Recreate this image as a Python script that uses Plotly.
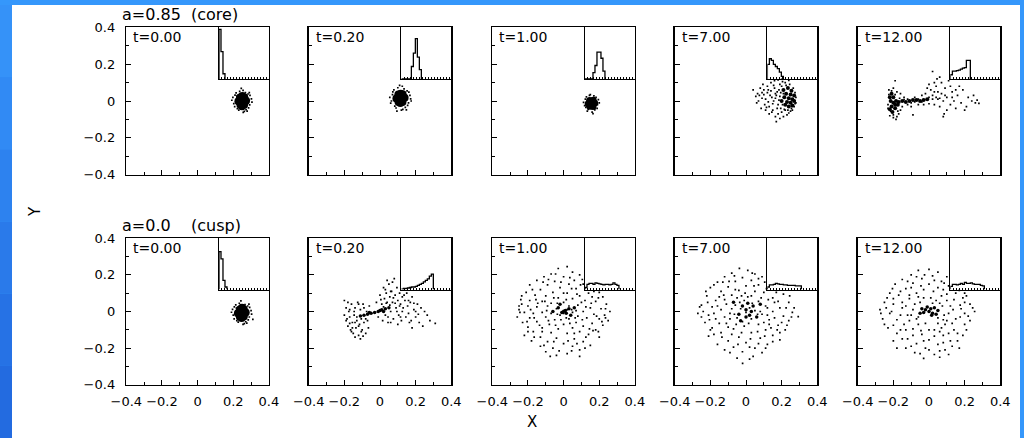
import plotly.graph_objects as go

# ---------------- data ----------------
time_labels = ["t=0.00", "t=0.20", "t=1.00", "t=7.00", "t=12.00"]
row_titles = ["a=0.85\u00a0 (core)", "a=0.0\u00a0\u00a0\u00a0 (cusp)"]
axis_tick_vals = [-0.4, -0.2, 0, 0.2, 0.4]
axis_tick_text = ["\u22120.4", "\u22120.2", "0", "0.2", "0.4"]
axis_minor_vals = [-0.3, -0.1, 0.1, 0.3]

# ---- core (a=0.85) ----
core_t000_dense = [(0.25, 0.0), (0.272, 0.002), (0.229, -0.002), (0.262, 0.02), (0.238, 0.019),
                   (0.261, -0.02), (0.24, -0.021), (0.251, 0.027), (0.249, -0.028)]
core_t000_sparse = [(0.245, 0.068), (0.21, 0.032), (0.292, -0.021), (0.302, 0.012), (0.203, -0.014),
                    (0.283, 0.038), (0.256, -0.062), (0.272, -0.047), (0.216, 0.044), (0.231, -0.049),
                    (0.294, 0.031), (0.192, 0.004), (0.286, -0.037), (0.223, -0.041), (0.268, 0.046),
                    (0.262, -0.056), (0.221, 0.026), (0.305, -0.006), (0.198, 0.02), (0.236, 0.052),
                    (0.278, -0.055), (0.208, -0.03), (0.29, 0.045), (0.255, 0.058)]
core_t000_hist = [0.96, 0.53, 0.10]

core_t020_dense = [(0.115, 0.015), (0.138, 0.017), (0.092, 0.013), (0.127, 0.036), (0.103, 0.035),
                   (0.126, -0.006), (0.104, -0.005), (0.116, 0.04), (0.114, -0.011)]
core_t020_sparse = [(0.11, 0.085), (0.072, 0.05), (0.16, -0.01), (0.168, 0.03), (0.064, 0.0),
                    (0.152, 0.055), (0.12, -0.05), (0.142, -0.035), (0.078, 0.06), (0.09, -0.038),
                    (0.162, 0.048), (0.055, 0.02), (0.155, -0.024), (0.083, -0.028), (0.135, 0.066),
                    (0.128, -0.045), (0.07, 0.035), (0.172, 0.012), (0.1, 0.072), (0.148, -0.048),
                    (0.06, -0.012), (0.095, -0.055), (0.125, 0.08), (0.175, 0.0)]
core_t020_hist = [0, 0, 0, 0, 0, 0.24, 0.5, 0.78, 0.42, 0.18]

core_t100_dense = [(0.156, -0.013), (0.174, -0.011), (0.138, -0.015), (0.166, 0.004), (0.146, 0.003),
                   (0.165, -0.03), (0.147, -0.029)]
core_t100_sparse = [(0.15, 0.035), (0.122, 0.01), (0.19, -0.02), (0.195, 0.008), (0.118, -0.025),
                    (0.182, 0.02), (0.16, -0.06), (0.175, -0.048), (0.128, 0.022), (0.138, -0.045),
                    (0.188, -0.04), (0.112, -0.008), (0.17, 0.028), (0.145, 0.03), (0.2, -0.01),
                    (0.133, -0.055), (0.165, -0.068), (0.125, -0.035)]
core_t100_hist = [0, 0, 0, 0, 0.12, 0.26, 0.52, 0.52, 0.4, 0.15]

core_t700_dense = [(0.21, 0.06), (0.235, 0.07), (0.255, 0.055), (0.225, 0.04), (0.25, 0.035),
                   (0.27, 0.03), (0.215, 0.02), (0.24, 0.015), (0.26, 0.01), (0.23, -0.005),
                   (0.25, -0.01), (0.27, 0.0), (0.24, -0.03), (0.26, -0.025), (0.2, 0.0), (0.22, -0.02)]
core_t700_sparse = [(0.04, 0.06), (0.055, 0.025), (0.065, 0.04), (0.08, 0.07), (0.09, 0.015),
                    (0.1, 0.06), (0.105, -0.02), (0.11, 0.01), (0.12, 0.08), (0.12, 0.045),
                    (0.125, -0.005), (0.13, -0.03), (0.14, 0.1), (0.14, 0.055), (0.145, 0.02),
                    (0.15, -0.05), (0.155, 0.0), (0.16, 0.07), (0.165, -0.085), (0.17, 0.03),
                    (0.175, -0.04), (0.18, -0.07), (0.185, 0.005), (0.19, 0.09), (0.19, -0.095),
                    (0.2, -0.06), (0.205, 0.105), (0.21, -0.085), (0.22, -0.05), (0.23, -0.075),
                    (0.24, -0.065), (0.25, -0.055), (0.26, -0.05), (0.27, -0.03), (0.28, 0.02),
                    (0.28, -0.01), (0.17, -0.112), (0.085, -0.04), (0.11, -0.05), (0.13, -0.07),
                    (0.07, 0.0), (0.095, 0.09), (0.16, 0.11), (0.18, 0.115), (0.2, 0.118),
                    (0.24, 0.112), (0.22, 0.1), (0.175, 0.05), (0.195, 0.045), (0.135, 0.03),
                    (0.15, -0.015), (0.165, 0.015), (0.18, -0.02), (0.195, -0.04), (0.06, -0.01),
                    (0.1, 0.035), (0.2, 0.08), (0.21, 0.04), (0.19, 0.025), (0.185, 0.06),
                    (0.205, -0.02), (0.215, -0.045), (0.235, -0.05), (0.255, -0.04), (0.275, -0.015),
                    (0.275, 0.045), (0.265, 0.07), (0.245, 0.09), (0.225, 0.085), (0.165, 0.04),
                    (0.155, 0.085), (0.145, -0.06), (0.125, 0.06), (0.115, -0.035), (0.09, 0.045),
                    (0.075, 0.03)]
core_t700_hist = [0.28, 0.39, 0.36, 0.28, 0.24, 0.2, 0.13, 0.05]

core_t1200_dense = [(-0.21, 0.04), (-0.2, 0.02), (-0.215, 0.0), (-0.2, -0.01), (-0.21, -0.03),
                    (-0.19, -0.04), (-0.205, -0.06), (-0.185, 0.0), (-0.17, -0.005), (-0.15, 0.0),
                    (-0.13, -0.005), (-0.11, 0.0), (-0.09, 0.005), (-0.07, 0.005), (-0.05, 0.0),
                    (-0.19, -0.02), (-0.175, -0.02), (-0.22, 0.02), (-0.22, -0.045), (-0.03, 0.005),
                    (-0.01, 0.01)]
core_t1200_sparse = [(-0.225, 0.06), (-0.2, 0.07), (-0.18, 0.05), (-0.16, 0.04), (-0.23, -0.02),
                     (-0.22, -0.08), (-0.2, -0.09), (-0.185, -0.1), (-0.17, -0.07), (-0.16, -0.05),
                     (-0.15, -0.03), (-0.14, 0.02), (-0.19, 0.11), (-0.12, -0.02), (-0.1, -0.03),
                     (-0.09, -0.075), (-0.08, 0.02), (-0.06, -0.02), (-0.04, 0.03), (-0.03, -0.02),
                     (-0.02, 0.04), (0.0, 0.02), (0.0, -0.015), (0.01, 0.06), (0.02, 0.16),
                     (0.02, 0.03), (0.03, -0.02), (0.04, 0.08), (0.05, 0.05), (0.05, 0.01),
                     (0.06, -0.03), (0.07, 0.1), (0.07, 0.04), (0.08, -0.085), (0.08, 0.0),
                     (0.09, 0.07), (0.1, 0.02), (0.1, -0.05), (0.11, 0.11), (0.12, -0.02),
                     (0.13, 0.05), (0.14, 0.0), (0.15, -0.04), (0.16, 0.03), (0.18, -0.01),
                     (0.19, 0.06), (0.2, -0.05), (0.22, 0.02), (0.25, 0.03), (0.26, -0.01),
                     (0.28, -0.013), (0.27, 0.005), (0.045, 0.12), (0.03, 0.1), (0.085, -0.07),
                     (0.0, 0.09), (-0.01, 0.07), (0.06, 0.13), (0.12, 0.08), (0.17, 0.08),
                     (-0.14, 0.008), (-0.12, 0.01), (-0.1, -0.01), (-0.08, -0.005), (-0.06, 0.01),
                     (-0.04, -0.005), (0.02, 0.01), (0.04, 0.02), (0.06, 0.015), (-0.21, 0.055),
                     (-0.225, 0.035), (-0.19, 0.035), (-0.215, -0.055), (-0.2, -0.075), (-0.18, -0.085),
                     (-0.175, -0.055), (-0.165, 0.015), (-0.23, -0.04), (0.03, 0.05), (0.09, 0.03),
                     (0.13, 0.02), (0.15, 0.06), (0.21, -0.03), (0.24, 0.0)]
core_t1200_hist = [0.08, 0.15, 0.15, 0.16, 0.17, 0.19, 0.21, 0.22, 0.36, 0.36]

# ---- cusp (a=0.0) ----
cusp_t000_dense = [(0.248, -0.008), (0.27, -0.006), (0.226, -0.01), (0.259, 0.012), (0.237, 0.011),
                   (0.259, -0.028), (0.237, -0.029), (0.249, 0.02), (0.247, -0.036)]
cusp_t000_sparse = [(0.243, 0.058), (0.206, 0.025), (0.29, -0.03), (0.3, 0.005), (0.2, -0.02),
                    (0.281, 0.03), (0.255, -0.07), (0.27, -0.056), (0.214, 0.036), (0.228, -0.058),
                    (0.292, 0.022), (0.19, -0.004), (0.284, -0.046), (0.22, -0.05), (0.266, 0.038),
                    (0.262, -0.066), (0.218, 0.018), (0.303, -0.014), (0.196, 0.012), (0.234, 0.045),
                    (0.276, -0.064), (0.205, -0.04), (0.288, 0.04), (0.31, -0.043)]
cusp_t000_hist = [0.74, 0.6, 0.18, 0.05]

cusp_t020_dense = [(-0.11, -0.025), (-0.09, -0.02), (-0.07, -0.015), (-0.05, -0.01), (-0.03, -0.005),
                   (-0.01, 0.0), (0.01, 0.01), (0.03, 0.015), (0.05, 0.02), (0.0, 0.005),
                   (-0.06, -0.005), (0.02, 0.0)]
cusp_t020_sparse = [(-0.2, 0.06), (-0.19, 0.02), (-0.19, -0.05), (-0.18, -0.08), (-0.175, 0.0),
                    (-0.17, -0.03), (-0.165, -0.1), (-0.16, 0.04), (-0.155, -0.06), (-0.15, -0.12),
                    (-0.145, -0.02), (-0.14, 0.02), (-0.135, -0.09), (-0.13, -0.05), (-0.125, 0.05),
                    (-0.12, -0.13), (-0.115, -0.07), (-0.11, 0.01), (-0.105, -0.04), (-0.1, -0.1),
                    (-0.095, 0.04), (-0.09, -0.06), (-0.08, -0.12), (-0.075, 0.0), (-0.07, -0.05),
                    (-0.065, -0.09), (-0.06, 0.03), (-0.2, -0.02), (-0.18, 0.05), (-0.16, -0.11),
                    (-0.14, -0.14), (-0.12, 0.04),
                    (-0.02, 0.05), (-0.01, -0.03), (0.0, 0.09), (0.01, 0.04), (0.015, -0.05),
                    (0.02, 0.13), (0.025, 0.07), (0.03, -0.02), (0.035, 0.1), (0.04, 0.05),
                    (0.045, -0.06), (0.05, 0.15), (0.055, 0.08), (0.06, 0.0), (0.065, 0.11),
                    (0.07, 0.05), (0.075, -0.04), (0.08, 0.18), (0.085, 0.09), (0.09, 0.02),
                    (0.095, 0.13), (0.1, 0.06), (0.105, -0.02), (0.11, 0.1), (0.115, 0.04),
                    (0.12, -0.05), (0.125, 0.08), (0.13, 0.02), (0.14, 0.06), (0.145, -0.03),
                    (0.15, 0.1), (0.155, 0.03), (0.16, -0.01), (0.17, 0.05), (0.175, -0.05),
                    (0.18, 0.08), (0.19, 0.01), (0.2, -0.03), (0.21, 0.04), (0.22, -0.06),
                    (0.23, 0.02), (0.24, -0.08), (0.25, 0.0), (0.31, -0.065), (0.07, 0.16),
                    (0.04, 0.17), (0.06, -0.06), (0.1, -0.07), (0.18, -0.09),
                    (0.005, 0.065), (0.02, 0.025), (0.035, 0.045), (0.055, 0.035), (0.075, 0.075),
                    (0.085, 0.045), (0.095, 0.0), (0.11, 0.03), (0.125, 0.0), (0.135, 0.09),
                    (0.16, 0.06), (0.19, 0.045), (0.2, 0.0), (0.165, -0.06), (0.215, -0.015),
                    (0.03, 0.12), (0.06, 0.11), (0.045, -0.03), (0.115, -0.03), (0.28, -0.05),
                    (0.265, -0.02), (-0.185, -0.04), (-0.17, 0.01), (-0.155, -0.09), (-0.145, 0.0),
                    (-0.13, -0.03), (-0.12, -0.08), (-0.105, -0.11), (-0.09, 0.02), (-0.08, -0.04),
                    (-0.14, -0.06), (-0.17, -0.065), (-0.11, -0.15), (-0.095, -0.135)]
cusp_t020_hist = [0.01, 0.02, 0.02, 0.03, 0.04, 0.05, 0.05, 0.06, 0.08, 0.1, 0.12, 0.15, 0.18, 0.21, 0.26, 0.3]

cusp_t100_dense = [(0.0, 0.0), (0.01, 0.005), (-0.01, -0.005), (0.015, -0.01), (0.03, 0.015),
                   (-0.03, 0.02), (0.04, -0.02), (-0.02, 0.04), (0.06, 0.02), (-0.06, 0.0)]
cusp_t100_sparse = [(-0.03, 0.235), (0.02, 0.245), (0.05, 0.215), (-0.07, 0.205), (0.09, 0.2),
                    (-0.11, 0.19), (0.0, 0.19), (0.105, 0.175), (-0.15, 0.17), (-0.05, 0.165),
                    (0.06, 0.17), (0.03, 0.15), (-0.19, 0.145), (-0.09, 0.145), (0.11, 0.15),
                    (0.17, 0.11), (-0.02, 0.13), (-0.13, 0.12), (0.07, 0.125), (0.2, 0.105),
                    (-0.21, 0.105), (-0.06, 0.105), (0.02, 0.1), (0.14, 0.1), (-0.16, 0.09),
                    (-0.1, 0.085), (0.09, 0.085), (0.22, 0.08), (-0.03, 0.075), (0.05, 0.07),
                    (-0.24, 0.065), (-0.19, 0.06), (-0.12, 0.055), (0.12, 0.06), (0.18, 0.055),
                    (-0.07, 0.045), (0.0, 0.05), (0.24, 0.04), (-0.2, 0.03), (-0.15, 0.025),
                    (-0.09, 0.03), (0.03, 0.03), (0.08, 0.035), (0.15, 0.02), (0.21, 0.015),
                    (-0.25, 0.01), (-0.04, 0.015), (0.0, 0.005), (0.02, 0.01), (0.11, 0.0),
                    (0.26, 0.0), (-0.22, -0.005), (-0.17, -0.01), (-0.12, -0.005), (-0.07, -0.01),
                    (0.05, -0.005), (0.17, -0.015), (0.23, -0.02), (-0.02, -0.02), (0.0, -0.01),
                    (0.08, -0.025), (-0.26, -0.03), (-0.19, -0.035), (-0.1, -0.03), (0.13, -0.035),
                    (0.2, -0.04), (-0.05, -0.045), (0.03, -0.04), (0.25, -0.05), (-0.23, -0.06),
                    (-0.15, -0.055), (0.07, -0.06), (0.16, -0.065), (-0.08, -0.07), (0.0, -0.07),
                    (0.11, -0.08), (0.22, -0.075), (-0.2, -0.085), (-0.12, -0.09), (-0.03, -0.095),
                    (0.05, -0.09), (0.18, -0.1), (-0.17, -0.11), (-0.07, -0.115), (0.02, -0.12),
                    (0.09, -0.11), (0.14, -0.125), (-0.22, -0.13), (-0.13, -0.14), (0.2, -0.14),
                    (-0.04, -0.145), (0.06, -0.15), (-0.18, -0.16), (-0.09, -0.165), (0.11, -0.165),
                    (0.0, -0.175), (-0.13, -0.19), (0.05, -0.19), (0.15, -0.185), (-0.06, -0.2),
                    (0.09, -0.21), (-0.1, -0.22), (0.02, -0.23), (0.09, -0.245), (-0.04, -0.24),
                    (-0.235, 0.085), (-0.175, 0.12), (-0.145, 0.045), (-0.085, 0.175), (-0.045, 0.205),
                    (-0.015, 0.16), (0.035, 0.185), (0.075, 0.095), (0.095, 0.145), (0.155, 0.045),
                    (0.195, 0.075), (0.235, 0.015), (0.215, -0.055), (0.185, -0.025), (0.145, -0.095),
                    (0.125, 0.025), (0.065, -0.035), (0.035, -0.065), (-0.015, -0.045), (-0.045, -0.075),
                    (-0.085, -0.05), (-0.135, -0.075), (-0.165, -0.035), (-0.205, -0.055), (-0.245, -0.005),
                    (-0.235, 0.04), (-0.185, 0.01), (-0.105, 0.055), (-0.055, 0.075), (0.015, 0.065),
                    (0.045, 0.125), (-0.115, 0.16), (-0.165, -0.14), (-0.11, -0.185), (-0.055, -0.165),
                    (0.025, -0.16), (0.075, -0.175), (0.125, -0.14), (0.165, -0.105), (0.195, -0.11),
                    (0.235, -0.035), (-0.025, -0.215), (0.045, -0.215), (-0.075, -0.245), (0.12, -0.2),
                    (-0.2, -0.11), (-0.25, 0.03), (0.1, 0.05), (-0.095, 0.005), (0.045, 0.01),
                    (0.07, 0.005), (-0.035, -0.015), (0.015, -0.035), (0.105, -0.045), (-0.155, 0.065),
                    (-0.035, 0.045), (0.0, 0.1), (0.06, -0.12), (-0.12, -0.11), (0.16, 0.08)]
cusp_t100_hist = [0.04, 0.1, 0.12, 0.12, 0.1, 0.13, 0.12, 0.11, 0.1, 0.09, 0.1, 0.1, 0.09, 0.1, 0.13, 0.1, 0.08]

cusp_t700_dense = [(0.0, 0.01), (-0.02, 0.03), (0.02, -0.02), (0.04, 0.03), (-0.04, -0.015),
                   (0.01, 0.045), (-0.03, -0.05), (0.06, -0.03), (0.08, 0.04), (-0.07, 0.05),
                   (0.0, -0.03), (0.03, 0.0)]
cusp_t700_sparse = [(-0.037, 0.236), (0.01, 0.225), (-0.08, 0.21), (0.05, 0.205), (-0.12, 0.19),
                    (0.09, 0.19), (-0.02, 0.185), (0.03, 0.17), (-0.16, 0.16), (-0.06, 0.165),
                    (0.105, 0.16), (0.07, 0.145), (-0.2, 0.13), (-0.1, 0.135), (0.0, 0.14),
                    (0.17, 0.105), (-0.14, 0.11), (-0.04, 0.115), (0.1, 0.105), (0.21, 0.095),
                    (-0.22, 0.085), (-0.08, 0.09), (0.03, 0.085), (0.15, 0.075), (-0.17, 0.06),
                    (-0.12, 0.065), (-0.01, 0.06), (0.07, 0.055), (0.24, 0.05), (-0.25, 0.035),
                    (-0.19, 0.025), (-0.06, 0.035), (0.11, 0.03), (0.19, 0.02), (-0.14, 0.01),
                    (-0.03, 0.015), (0.02, 0.02), (0.05, 0.005), (0.15, 0.0), (0.26, -0.005),
                    (-0.27, -0.01), (-0.21, -0.02), (-0.09, -0.01), (0.0, -0.005), (0.09, -0.015),
                    (0.21, -0.025), (0.293, -0.028), (-0.17, -0.04), (-0.05, -0.035), (0.03, -0.04),
                    (0.13, -0.045), (0.24, -0.05), (-0.23, -0.06), (-0.11, -0.065), (0.07, -0.07),
                    (0.18, -0.075), (-0.01, -0.08), (-0.19, -0.09), (-0.07, -0.095), (0.11, -0.1),
                    (0.22, -0.1), (-0.14, -0.115), (0.03, -0.115), (0.15, -0.13), (-0.21, -0.135),
                    (-0.04, -0.14), (0.08, -0.145), (-0.1, -0.16), (0.19, -0.155), (0.0, -0.17),
                    (-0.16, -0.18), (0.12, -0.18), (-0.07, -0.195), (0.05, -0.2), (-0.02, -0.22),
                    (0.09, -0.225), (-0.12, -0.21), (-0.019, -0.283), (0.04, -0.245),
                    (-0.15, 0.08), (0.115, 0.125), (-0.09, -0.04), (0.16, 0.05), (-0.24, 0.0),
                    (0.2, -0.06), (-0.18, -0.01), (0.1, -0.06), (-0.06, 0.12), (0.05, 0.11),
                    (-0.12, -0.03), (0.14, -0.09),
                    (-0.225, 0.11), (-0.18, 0.145), (-0.13, 0.16), (-0.065, 0.195), (0.035, 0.21),
                    (0.07, 0.18), (-0.005, 0.1), (0.085, 0.075), (0.125, 0.065), (0.18, 0.055),
                    (0.225, 0.02), (0.255, -0.03), (0.27, 0.02), (0.23, -0.075), (0.19, -0.115),
                    (0.16, -0.035), (0.12, -0.02), (0.065, -0.015), (0.035, 0.045), (-0.02, -0.055),
                    (-0.055, -0.07), (-0.1, -0.085), (-0.15, -0.065), (-0.205, -0.045), (-0.25, -0.03),
                    (-0.26, 0.025), (-0.215, 0.05), (-0.16, 0.03), (-0.11, 0.04), (-0.05, 0.075),
                    (0.01, 0.08), (-0.095, 0.165), (-0.18, -0.125), (-0.135, -0.14), (-0.08, -0.125),
                    (-0.025, -0.115), (0.025, -0.15), (0.065, -0.11), (0.105, -0.135), (0.15, -0.165),
                    (0.175, -0.1), (-0.045, -0.18), (0.02, -0.195), (0.07, -0.175), (-0.09, -0.225),
                    (-0.05, -0.255), (0.02, -0.26), (0.11, -0.2), (-0.2, -0.1), (0.245, 0.085),
                    (0.08, 0.0), (-0.08, 0.015), (0.12, 0.02), (-0.125, 0.09), (0.045, 0.14),
                    (-0.025, 0.085), (0.13, -0.07), (-0.035, 0.05), (0.015, -0.065), (-0.065, -0.015)]
cusp_t700_hist = [0.05, 0.09, 0.09, 0.1, 0.12, 0.11, 0.1, 0.1, 0.09, 0.09, 0.08, 0.08, 0.08, 0.08, 0.07, 0.07, 0.07]

cusp_t1200_dense = [(-0.02, 0.01), (0.0, 0.0), (0.01, 0.015), (-0.03, -0.005), (0.02, -0.01),
                    (-0.01, 0.025), (0.03, 0.02), (-0.04, 0.015), (0.015, -0.02), (0.05, 0.005),
                    (-0.05, -0.01), (0.04, -0.015)]
cusp_t1200_sparse = [(-0.06, 0.225), (0.0, 0.23), (0.05, 0.215), (-0.1, 0.2), (0.02, 0.195),
                     (0.1, 0.19), (-0.15, 0.175), (-0.04, 0.18), (0.07, 0.165), (-0.19, 0.15),
                     (-0.09, 0.155), (0.0, 0.15), (0.11, 0.14), (-0.13, 0.125), (-0.03, 0.12),
                     (0.05, 0.13), (0.17, 0.115), (-0.22, 0.1), (-0.17, 0.09), (-0.07, 0.1),
                     (0.1, 0.095), (0.21, 0.085), (-0.11, 0.07), (0.01, 0.075), (0.14, 0.065),
                     (-0.25, 0.05), (-0.2, 0.04), (-0.05, 0.05), (0.06, 0.045), (0.23, 0.04),
                     (-0.275, 0.01), (-0.15, 0.02), (-0.09, 0.01), (0.18, 0.015), (0.256, 0.0),
                     (-0.22, -0.01), (-0.12, -0.02), (0.11, -0.01), (0.22, -0.025), (-0.26, -0.04),
                     (-0.18, -0.045), (-0.07, -0.04), (0.05, -0.035), (0.15, -0.04), (-0.14, -0.07),
                     (-0.02, -0.065), (0.09, -0.07), (0.2, -0.07), (-0.23, -0.09), (-0.09, -0.095),
                     (0.03, -0.1), (0.14, -0.1), (-0.18, -0.12), (-0.04, -0.125), (0.08, -0.13),
                     (0.19, -0.13), (-0.12, -0.15), (0.0, -0.155), (0.12, -0.16), (-0.2, -0.16),
                     (-0.07, -0.175), (0.05, -0.18), (0.17, -0.2), (-0.13, -0.2), (-0.02, -0.2),
                     (0.09, -0.21), (-0.08, -0.225), (0.03, -0.235), (-0.03, -0.256), (0.06, -0.25),
                     (-0.16, 0.11), (0.12, 0.03), (-0.1, 0.13), (0.08, 0.12), (-0.21, 0.0),
                     (0.2, 0.05), (-0.11, -0.05), (0.1, -0.05), (-0.06, 0.08), (0.07, -0.09),
                     (0.16, -0.16), (-0.16, -0.1),
                     (-0.205, 0.125), (-0.12, 0.165), (-0.07, 0.19), (0.03, 0.17), (0.085, 0.155),
                     (-0.025, 0.2), (-0.045, 0.14), (0.025, 0.11), (0.07, 0.085), (0.15, 0.1),
                     (0.19, 0.075), (0.245, 0.02), (0.23, -0.05), (0.175, -0.03), (0.13, -0.065),
                     (0.085, -0.02), (0.075, 0.03), (-0.08, 0.04), (-0.1, -0.02), (-0.16, -0.02),
                     (-0.2, 0.07), (-0.24, 0.02), (-0.25, -0.07), (-0.2, -0.075), (-0.13, -0.1),
                     (-0.06, -0.07), (0.0, -0.1), (0.05, -0.065), (0.11, -0.12), (0.16, -0.12),
                     (0.21, -0.1), (-0.15, -0.15), (-0.09, -0.13), (-0.03, -0.16), (0.03, -0.135),
                     (0.08, -0.17), (0.13, -0.19), (-0.18, -0.2), (-0.1, -0.19), (-0.05, -0.23),
                     (0.0, -0.21), (0.06, -0.215), (0.11, -0.235), (-0.11, 0.09), (-0.15, 0.05),
                     (0.04, 0.06), (0.135, 0.01), (-0.06, -0.03), (0.02, 0.045), (-0.03, 0.075),
                     (0.1, 0.06), (0.2, -0.01), (-0.27, -0.01), (-0.235, 0.075), (0.175, 0.035),
                     (0.08, -0.045), (-0.045, -0.105), (0.2, 0.1), (-0.13, 0.03), (0.06, -0.11)]
cusp_t1200_hist = [0.06, 0.1, 0.1, 0.09, 0.1, 0.12, 0.1, 0.14, 0.12, 0.12, 0.13, 0.11, 0.1, 0.1, 0.1, 0.08, 0.07]

panels = [
    (core_t000_dense, core_t000_sparse, core_t000_hist),
    (core_t020_dense, core_t020_sparse, core_t020_hist),
    (core_t100_dense, core_t100_sparse, core_t100_hist),
    (core_t700_dense, core_t700_sparse, core_t700_hist),
    (core_t1200_dense, core_t1200_sparse, core_t1200_hist),
    (cusp_t000_dense, cusp_t000_sparse, cusp_t000_hist),
    (cusp_t020_dense, cusp_t020_sparse, cusp_t020_hist),
    (cusp_t100_dense, cusp_t100_sparse, cusp_t100_hist),
    (cusp_t700_dense, cusp_t700_sparse, cusp_t700_hist),
    (cusp_t1200_dense, cusp_t1200_sparse, cusp_t1200_hist),
]

# ---------------- layout geometry / style ----------------
W, H = 1024, 438
col_left = [126.3, 308.7, 492.3, 674.7, 857.7]
panel_w = 142.6
row_top = [27.3, 238.3]
panel_h = [147.4, 146.4]
dense_sizes = [8, 8, 7, 4, 4, 8, 3.5, 3.5, 3.5, 3.5]
HIST_BIN = 0.04
INSET_FRAC = 0.65
FONT = "DejaVu Sans"
left_strip_colors = ["#3592f8", "#318af4", "#2d82ef", "#2a7aea", "#2672e5", "#236be0"]


def fx(px):
    return px / W


def fy(py):
    return 1 - py / H


fig = go.Figure()
layout = dict(
    template="none",
    width=W, height=H, autosize=False,
    margin=dict(l=0, r=0, t=0, b=0, pad=0, autoexpand=False),
    paper_bgcolor="#3597fb", plot_bgcolor="rgba(0,0,0,0)",
    showlegend=False,
    font=dict(family=FONT, color="black", size=13),
    shapes=[], annotations=[],
)

# white sheet with blue frame
layout["shapes"].append(dict(type="rect", xref="paper", yref="paper", x0=fx(12), x1=fx(1020),
                             y0=0, y1=fy(5), fillcolor="white", line_width=0, layer="below"))
seg = (H - 5) / len(left_strip_colors)
for k, col in enumerate(left_strip_colors):
    layout["shapes"].append(dict(type="rect", xref="paper", yref="paper", x0=0, x1=fx(12),
                                 y0=fy(5 + (k + 1) * seg), y1=fy(5 + k * seg),
                                 fillcolor=col, line_width=0, layer="below"))

for i, (dense, sparse, hist) in enumerate(panels):
    r, c = divmod(i, 5)
    L = col_left[c]
    T = row_top[r]
    B = T + panel_h[r]
    R = L + panel_w
    n = i + 1
    m = i + 11
    xa, ya = ("x" if n == 1 else f"x{n}"), ("y" if n == 1 else f"y{n}")
    xi, yi = f"x{m}", f"y{m}"
    xd = [fx(L), fx(R)]
    yd = [fy(B), fy(T)]
    common = dict(
        range=[-0.4, 0.4], showgrid=False, zeroline=False, automargin=False,
        showline=True, mirror=True, linecolor="black", linewidth=1.5,
        ticks="inside", ticklen=5, tickwidth=1, tickcolor="black",
        tickmode="array", tickvals=axis_tick_vals, ticktext=axis_tick_text,
        minor=dict(ticks="inside", ticklen=3, tickwidth=1, tickcolor="black",
                   tickmode="array", tickvals=axis_minor_vals, showgrid=False),
        tickfont=dict(family=FONT, size=13, color="black"), fixedrange=True,
    )
    layout[f"xaxis{n}"] = dict(domain=xd, anchor=ya, showticklabels=(r == 1),
                               ticklabelstandoff=4, **common)
    layout[f"yaxis{n}"] = dict(domain=yd, anchor=xa, showticklabels=(c == 0),
                               ticklabelstandoff=7, **common)
    # inset histogram axes (top-right corner of panel)
    iL = L + INSET_FRAC * panel_w
    iB = T + (1 - INSET_FRAC) * panel_h[r]
    layout[f"xaxis{m}"] = dict(
        domain=[fx(iL), fx(R)], anchor=yi, range=[0, 1], showgrid=False, zeroline=False,
        automargin=False, showline=True, mirror=False, linecolor="black", linewidth=1.3,
        ticks="inside", ticklen=2, tickwidth=1, tickcolor="black",
        tickmode="linear", tick0=0, dtick=0.06, showticklabels=False, fixedrange=True,
    )
    layout[f"yaxis{m}"] = dict(
        domain=[fy(iB), fy(T)], anchor=xi, range=[0, 1], showgrid=False, zeroline=False,
        automargin=False, showline=True, mirror=False, linecolor="black", linewidth=1.3,
        ticks="", showticklabels=False, fixedrange=True,
    )

    fig.add_trace(go.Scatter(
        x=[p[0] for p in sparse], y=[p[1] for p in sparse], mode="markers",
        marker=dict(size=1.7, color="black", symbol="square", line_width=0), xaxis=xa, yaxis=ya,
        hoverinfo="skip"))
    fig.add_trace(go.Scatter(
        x=[p[0] for p in dense], y=[p[1] for p in dense], mode="markers",
        marker=dict(size=dense_sizes[i], color="black", line_width=0), xaxis=xa, yaxis=ya,
        hoverinfo="skip"))
    hx = [0.0] + [k * HIST_BIN for k in range(len(hist) + 1)]
    hy = [0.0] + list(hist) + [0.0]
    fig.add_trace(go.Scatter(
        x=hx, y=hy, mode="lines", line=dict(color="black", width=1.3, shape="hv"),
        xaxis=xi, yaxis=yi, hoverinfo="skip", cliponaxis=False))

    layout["annotations"].append(dict(
        text=time_labels[c], xref="paper", yref="paper", x=fx(L + 5), y=fy(T + 10),
        xanchor="left", yanchor="middle", showarrow=False,
        font=dict(family=FONT, size=14, color="black")))

for r in range(2):
    layout["annotations"].append(dict(
        text=row_titles[r], xref="paper", yref="paper", x=fx(120), y=fy(row_top[r] - 13),
        xanchor="left", yanchor="middle", showarrow=False,
        font=dict(family=FONT, size=16, color="black")))

layout["annotations"].append(dict(
    text="Y", xref="paper", yref="paper", x=fx(35), y=fy(212), textangle=-90,
    xanchor="center", yanchor="middle", showarrow=False,
    font=dict(family=FONT, size=15, color="black")))
layout["annotations"].append(dict(
    text="X", xref="paper", yref="paper", x=fx(532), y=fy(422),
    xanchor="center", yanchor="middle", showarrow=False,
    font=dict(family=FONT, size=15, color="black")))

fig.update_layout(**layout)
fig.write_html("out.html", config={"displayModeBar": False, "staticPlot": True})
